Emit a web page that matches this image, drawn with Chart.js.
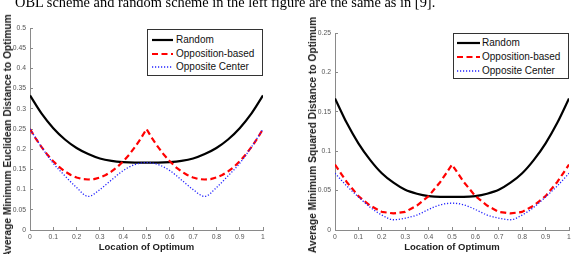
<!DOCTYPE html>
<html>
<head>
<meta charset="utf-8">
<script src="https://cdn.jsdelivr.net/npm/chart.js@4.4.1/dist/chart.umd.min.js"></script>
<style>
  html, body { margin:0; padding:0; background:#fff; }
  body { width:583px; height:254px; position:relative; overflow:hidden; }
  #caption { position:absolute; left:15px; top:-4.8px; font-family:"Liberation Serif","Times New Roman",serif; font-size:14.4px; line-height:14.4px; color:#000; white-space:nowrap; z-index:3; }
  canvas { position:absolute; top:0; }
  .legend { position:absolute; background:#fff; border:1px solid #333; box-sizing:border-box; z-index:2; font-family:"Liberation Sans",Arial,sans-serif; font-size:10px; color:#111; }
  .legend .row { position:absolute; height:12px; white-space:nowrap; }
  .legend svg { position:absolute; top:0; }
  .legend span { position:absolute; top:0; line-height:12px; }
  .ytitle { position:absolute; white-space:nowrap; font-family:"Liberation Sans",Arial,sans-serif; font-weight:bold; font-size:10.2px; line-height:12px; color:#222; transform:translate(-50%,-50%) rotate(-90deg); z-index:2; }
</style>
</head>
<body>
<div id="caption">OBL scheme and random scheme in the left figure are the same as in [9].</div>
<canvas id="c1" width="290" height="254" style="left:0px"></canvas>
<canvas id="c2" width="283" height="254" style="left:300px"></canvas>
<div id="yt1" class="ytitle" style="left:8px;top:136px"></div>
<div id="yt2" class="ytitle" style="left:313px;top:135px"></div>
<div id="lg1" class="legend" style="left:147px;top:29px;width:116px;height:47px"></div>
<div id="lg2" class="legend" style="left:453px;top:33px;width:116px;height:46px"></div>
<script>
// ---- data ----
const seriesNames = ["Random", "Opposition-based", "Opposite Center"];
const xCoarse = [0,0.05,0.1,0.15,0.2,0.25,0.3,0.35,0.4,0.45,0.5,0.55,0.6,0.65,0.7,0.75,0.8,0.85,0.9,0.95,1];
const xFine = [0,0.025,0.05,0.075,0.1,0.125,0.15,0.175,0.2,0.225,0.25,0.275,0.3,0.325,0.35,0.375,0.4,0.425,0.45,0.475,0.5,
               0.525,0.55,0.575,0.6,0.625,0.65,0.675,0.7,0.725,0.75,0.775,0.8,0.825,0.85,0.875,0.9,0.925,0.95,0.975,1];

// Left: Euclidean distance
const randomEuc = [0.333,0.288,0.252,0.224,0.203,0.188,0.177,0.171,0.168,0.167,0.167,0.167,0.168,0.171,0.177,0.188,0.203,0.224,0.252,0.288,0.333];
const oblEuc = [0.25,0.226,0.205,0.186,0.17,0.156,0.145,0.136,0.13,0.126,0.125,0.126,0.13,0.136,0.145,0.156,0.17,0.186,0.205,0.226,0.25,
                0.226,0.205,0.186,0.17,0.156,0.145,0.136,0.13,0.126,0.125,0.126,0.13,0.136,0.145,0.156,0.17,0.186,0.205,0.226,0.25];
const ocEuc = [0.25,0.205,0.165,0.134,0.105,0.083,0.1,0.124,0.147,0.162,0.167,0.162,0.147,0.124,0.1,0.083,0.105,0.134,0.165,0.205,0.25];

// Right: squared distance
const randomSq = [0.167,0.136,0.110,0.089,0.072,0.060,0.051,0.046,0.043,0.042,0.042,0.042,0.043,0.046,0.051,0.060,0.072,0.089,0.110,0.136,0.167];
const oblSq = [0.083,0.072,0.061,0.052,0.043,0.037,0.031,0.027,0.023,0.022,0.021,0.022,0.023,0.027,0.031,0.037,0.043,0.052,0.061,0.072,0.083,
               0.072,0.061,0.052,0.043,0.037,0.031,0.027,0.023,0.022,0.021,0.022,0.023,0.027,0.031,0.037,0.043,0.052,0.061,0.072,0.083];
const ocSq = [0.072,0.056,0.042,0.029,0.019,0.013,0.015,0.019,0.026,0.032,0.034,0.032,0.026,0.019,0.015,0.013,0.019,0.029,0.042,0.056,0.072];

const xTitle = "Location of Optimum";
const yTitleLeft = "Average Minimum Euclidean Distance to Optimum";
const yTitleRight = "Average Minimum Squared Distance to Optimum";

// ---- styles ----
const styles = [
  { color:"#000000", width:2.2, dash:[], tension:true },
  { color:"#ff0000", width:2.2, dash:[6,3.5], tension:false },
  { color:"#2222ff", width:1.3, dash:[1.2,1.8], tension:true }
];

function pts(xs, ys){ return xs.map((x,i)=>({x:x, y:ys[i]})); }

function makeDatasets(r, o, c){
  const sets = [pts(xCoarse,r), pts(xFine,o), pts(xCoarse,c)];
  return sets.map((d,i)=>({
    label: seriesNames[i], data: d,
    borderColor: styles[i].color, backgroundColor: styles[i].color,
    borderWidth: styles[i].width, borderDash: styles[i].dash,
    pointRadius: 0, fill:false,
    cubicInterpolationMode: styles[i].tension ? 'monotone' : 'default',
    tension: 0, borderCapStyle:'butt', borderJoinStyle:'round'
  })).reverse();
}

const tickFont = { family:"'Liberation Sans', Arial, sans-serif", size:6.8 };
const titleFont = { family:"'Liberation Sans', Arial, sans-serif", size:9.5, weight:'bold' };
const axisGrey = "#8a8a8a";

function makeChart(id, data, yMax, yStep, yWidth, padTop, padRight){
  return new Chart(document.getElementById(id), {
    type:'line',
    data:{ datasets:data },
    options:{
      responsive:false, animation:false, devicePixelRatio:1,
      layout:{ padding:{ top:padTop, right:padRight, left:0, bottom:0 } },
      plugins:{ legend:{display:false}, tooltip:{enabled:false} },
      scales:{
        x:{ type:'linear', min:0, max:1,
            ticks:{ stepSize:0.1, font:tickFont, color:"#555", padding:6, maxRotation:0, autoSkip:false,
                    callback:v=>String(+v.toFixed(2)) },
            grid:{ display:true, drawOnChartArea:false, drawTicks:true, tickLength:-3, color:axisGrey, lineWidth:1 },
            border:{ display:true, color:axisGrey, width:1 },
            title:{ display:true, text:xTitle, font:titleFont, color:"#222", padding:{top:1.3,bottom:1.3} },
            afterFit:s=>{ s.height = 24; } },
        y:{ type:'linear', min:0, max:yMax,
            ticks:{ stepSize:yStep, font:tickFont, color:"#555", padding:7, autoSkip:false,
                    callback:v=>String(+v.toFixed(2)) },
            grid:{ display:true, drawOnChartArea:false, drawTicks:true, tickLength:-3, color:axisGrey, lineWidth:1 },
            border:{ display:true, color:axisGrey, width:1 },
            afterFit:s=>{ s.width = yWidth; } }
      }
    }
  });
}

makeChart('c1', makeDatasets(randomEuc, oblEuc, ocEuc), 0.5, 0.05, 30, 28, 27);
makeChart('c2', makeDatasets(randomSq, oblSq, ocSq), 0.25, 0.05, 35, 33, 14);
document.getElementById('yt1').textContent = yTitleLeft;
document.getElementById('yt2').textContent = yTitleRight;

function buildLegend(id, rowTops, lineLeft, lineW, textLeft){
  const el = document.getElementById(id);
  seriesNames.forEach((name,i)=>{
    const row = document.createElement('div');
    row.className = 'row';
    row.style.top = rowTops[i] + 'px';
    row.style.left = '0px';
    const st = styles[i];
    row.innerHTML =
      '<svg width="'+(lineW+2)+'" height="12" style="left:'+lineLeft+'px">' +
      '<line x1="0" y1="6" x2="'+lineW+'" y2="6" stroke="'+st.color+'" stroke-width="'+st.width+'"' +
      (st.dash.length ? ' stroke-dasharray="'+st.dash.join(',')+'"' : '') + '/></svg>' +
      '<span style="left:'+textLeft+'px">'+name+'</span>';
    el.appendChild(row);
  });
}
buildLegend('lg1', [4,17.5,31], 4, 21, 28);
buildLegend('lg2', [3,17,31], 3, 23, 28);
</script>
</body>
</html>
